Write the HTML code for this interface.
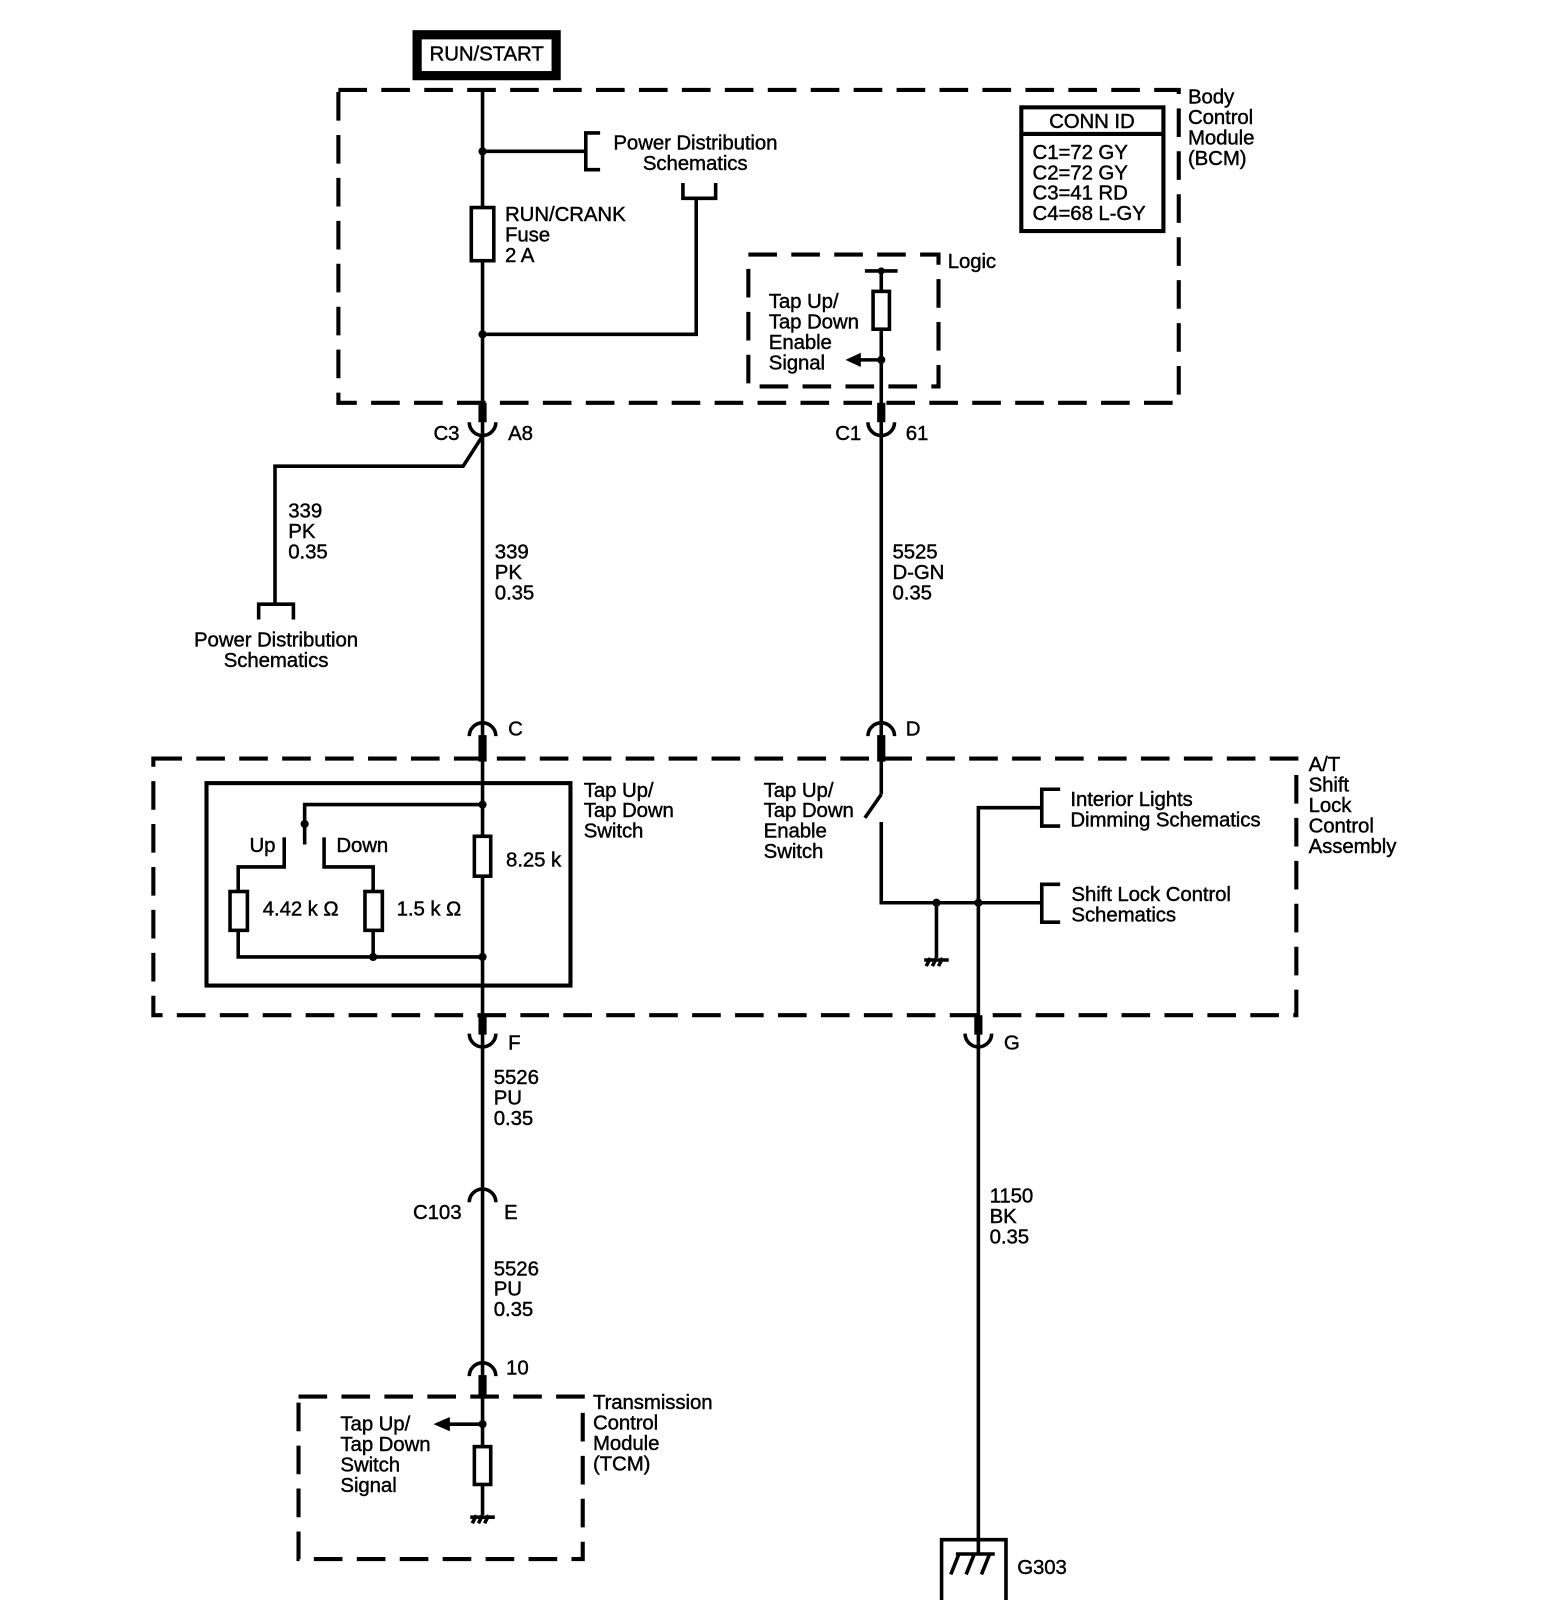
<!DOCTYPE html>
<html><head><meta charset="utf-8"><style>
html,body{margin:0;padding:0;background:#fff;}
svg{display:block;}
text{font-family:"Liberation Sans",sans-serif;font-size:20px;fill:#000;dominant-baseline:central;letter-spacing:-0.1px;stroke:#000;stroke-width:0.4px;}
.d{fill:none;stroke:#000;stroke-width:4;stroke-dasharray:28 14;}
.w{fill:none;stroke:#000;stroke-width:3.5;}
.t{fill:none;stroke:#000;stroke-width:8;}
.r{fill:#fff;stroke:#000;stroke-width:3.5;}
</style></head><body>
<svg width="1556" height="1600" viewBox="0 0 1522 1565" preserveAspectRatio="none" xmlns="http://www.w3.org/2000/svg">
<rect x="408" y="34" width="136" height="40" fill="#fff" stroke="#000" stroke-width="9"/>
<text x="476" y="53" text-anchor="middle">RUN/START</text>
<rect class="d" x="331" y="88" width="822" height="306"/>
<text x="1162" y="95">Body</text><text x="1162" y="115">Control</text><text x="1162" y="135">Module</text><text x="1162" y="155">(BCM)</text>
<rect x="999" y="105" width="139" height="121" fill="none" stroke="#000" stroke-width="4"/>
<line x1="999" y1="131" x2="1138" y2="131" stroke="#000" stroke-width="4"/>
<text x="1068" y="119" text-anchor="middle">CONN ID</text>
<text x="1010" y="149">C1=72 GY</text><text x="1010" y="169">C2=72 GY</text><text x="1010" y="189">C3=41 RD</text><text x="1010" y="209">C4=68 L-GY</text>
<line class="w" x1="472" y1="88" x2="472" y2="1366"/>
<line class="w" x1="472" y1="148" x2="573" y2="148"/>
<path class="w" d="M587 130 H573 V166 H587"/>
<text x="600" y="140">Power Distribution</text><text x="680" y="160" text-anchor="middle">Schematics</text>
<path class="w" d="M668 179 V194 H700 V179"/>
<path class="w" d="M681 194 V327 H472"/>
<circle cx="472" cy="148" r="4"/><circle cx="472" cy="327" r="4"/>
<rect class="r" x="461" y="203" width="22" height="52"/>
<text x="494" y="210">RUN/CRANK</text><text x="494" y="230">Fuse</text><text x="494" y="250">2 A</text>
<rect class="d" x="732" y="249" width="186" height="129"/>
<text x="927" y="256">Logic</text>
<line class="w" x1="846" y1="265" x2="878" y2="265"/>
<line class="w" x1="862" y1="265" x2="862" y2="777"/>
<rect class="r" x="854" y="285" width="16" height="37"/>
<circle cx="862" cy="265" r="3.5"/><circle cx="862" cy="352" r="4"/>
<line class="w" x1="862" y1="352" x2="840" y2="352"/>
<polygon points="827,352 842,345 842,359"/>
<text x="752" y="295">Tap Up/</text><text x="752" y="315">Tap Down</text><text x="752" y="335">Enable</text><text x="752" y="355">Signal</text>
<line class="t" x1="472" y1="394" x2="472" y2="413"/>
<path class="w" d="M459 413 A13 13 0 0 0 485 413"/>
<line class="t" x1="862" y1="394" x2="862" y2="413"/>
<path class="w" d="M849 413 A13 13 0 0 0 875 413"/>
<text x="424" y="424">C3</text><text x="497" y="424">A8</text>
<text x="817" y="424">C1</text><text x="886" y="424">61</text>
<path class="w" d="M471 428 L453 456 H269 V590"/>
<path class="w" d="M253 606 V591 H287 V606"/>
<text x="270" y="626" text-anchor="middle">Power Distribution</text><text x="270" y="646" text-anchor="middle">Schematics</text>
<text x="282" y="500">339</text><text x="282" y="520">PK</text><text x="282" y="540">0.35</text>
<text x="484" y="540">339</text><text x="484" y="560">PK</text><text x="484" y="580">0.35</text>
<text x="873" y="540">5525</text><text x="873" y="560">D-GN</text><text x="873" y="580">0.35</text>
<path class="w" d="M459 720 A13 13 0 0 1 485 720"/>
<line class="t" x1="472" y1="719" x2="472" y2="745"/>
<path class="w" d="M849 720 A13 13 0 0 1 875 720"/>
<line class="t" x1="862" y1="719" x2="862" y2="745"/>
<text x="497" y="713">C</text><text x="886" y="713">D</text>
<rect class="d" x="150" y="742" width="1118" height="251"/>
<text x="1280" y="748">A/T</text><text x="1280" y="768">Shift</text><text x="1280" y="788">Lock</text><text x="1280" y="808">Control</text><text x="1280" y="828">Assembly</text>
<rect x="202" y="766" width="356" height="198" fill="none" stroke="#000" stroke-width="4"/>
<text x="571" y="773">Tap Up/</text><text x="571" y="793">Tap Down</text><text x="571" y="813">Switch</text>
<path class="w" d="M472 787 H298 V826"/><circle cx="472" cy="787" r="4"/><circle cx="298" cy="806" r="4"/>
<path class="w" d="M278 819 V848 H233 V936 H472"/>
<path class="w" d="M317 819 V848 H365 V936"/>
<rect class="r" x="225" y="872" width="17" height="38"/>
<rect class="r" x="357" y="872" width="17" height="38"/>
<rect class="r" x="464" y="818" width="16" height="39"/>
<circle cx="365" cy="936" r="4"/><circle cx="472" cy="936" r="4"/>
<text x="244" y="827">Up</text><text x="329" y="827">Down</text>
<text x="495" y="841">8.25 k</text><text x="257" y="889">4.42 k Ω</text><text x="388" y="889">1.5 k Ω</text>
<line class="w" x1="862" y1="777" x2="846" y2="800"/>
<path class="w" d="M862 804 V883 H1018"/>
<path class="w" d="M957 1020 V790 H1018"/>
<line class="w" x1="916" y1="883" x2="916" y2="937"/>
<path class="w" d="M904 939 H928 M906 945 L910 937 M912 945 L916 937 M918 945 L922 937"/>
<circle cx="916" cy="883" r="4"/><circle cx="957" cy="883" r="4"/>
<path class="w" d="M1037 772 H1019 V808 H1037"/><path class="w" d="M1037 865 H1019 V902 H1037"/>
<text x="1047" y="782">Interior Lights</text><text x="1047" y="802">Dimming Schematics</text>
<text x="1048" y="875">Shift Lock Control</text><text x="1048" y="895">Schematics</text>
<text x="747" y="773">Tap Up/</text><text x="747" y="793">Tap Down</text><text x="747" y="813">Enable</text><text x="747" y="833">Switch</text>
<line class="t" x1="472" y1="993" x2="472" y2="1012"/>
<path class="w" d="M459 1011 A13 13 0 0 0 485 1011"/>
<line class="t" x1="957" y1="993" x2="957" y2="1012"/>
<path class="w" d="M944 1011 A13 13 0 0 0 970 1011"/>
<text x="497" y="1020">F</text><text x="982" y="1020">G</text>
<line class="w" x1="957" y1="1020" x2="957" y2="1520"/>
<text x="968" y="1170">1150</text><text x="968" y="1190">BK</text><text x="968" y="1210">0.35</text>
<path class="w" d="M921 1565 V1506 H984 V1565" stroke-width="4"/>
<path class="w" d="M935 1520 H973 M930 1540 L938 1520 M945 1540 L953 1520 M960 1540 L968 1520"/>
<text x="995" y="1533">G303</text>
<text x="483" y="1054">5526</text><text x="483" y="1074">PU</text><text x="483" y="1094">0.35</text>
<path class="w" d="M459 1176 A13 13 0 0 1 485 1176"/>
<text x="404" y="1186">C103</text><text x="493" y="1186">E</text>
<text x="483" y="1241">5526</text><text x="483" y="1261">PU</text><text x="483" y="1281">0.35</text>
<path class="w" d="M459 1346 A13 13 0 0 1 485 1346"/>
<line class="t" x1="472" y1="1345" x2="472" y2="1368"/>
<text x="495" y="1338">10</text>
<rect class="d" x="292" y="1366" width="278" height="159"/>
<text x="580" y="1372">Transmission</text><text x="580" y="1392">Control</text><text x="580" y="1412">Module</text><text x="580" y="1432">(TCM)</text>
<line class="w" x1="472" y1="1366" x2="472" y2="1482"/>
<circle cx="472" cy="1393" r="4"/>
<line class="w" x1="472" y1="1393" x2="436" y2="1393"/>
<polygon points="424,1393 440,1386 440,1400"/>
<rect class="r" x="464" y="1415" width="16" height="37"/>
<path class="w" d="M460 1484 H484 M462 1490 L466 1482 M468 1490 L472 1482 M474 1490 L478 1482"/>
<text x="333" y="1393">Tap Up/</text><text x="333" y="1413">Tap Down</text><text x="333" y="1433">Switch</text><text x="333" y="1453">Signal</text>
</svg>
</body></html>
